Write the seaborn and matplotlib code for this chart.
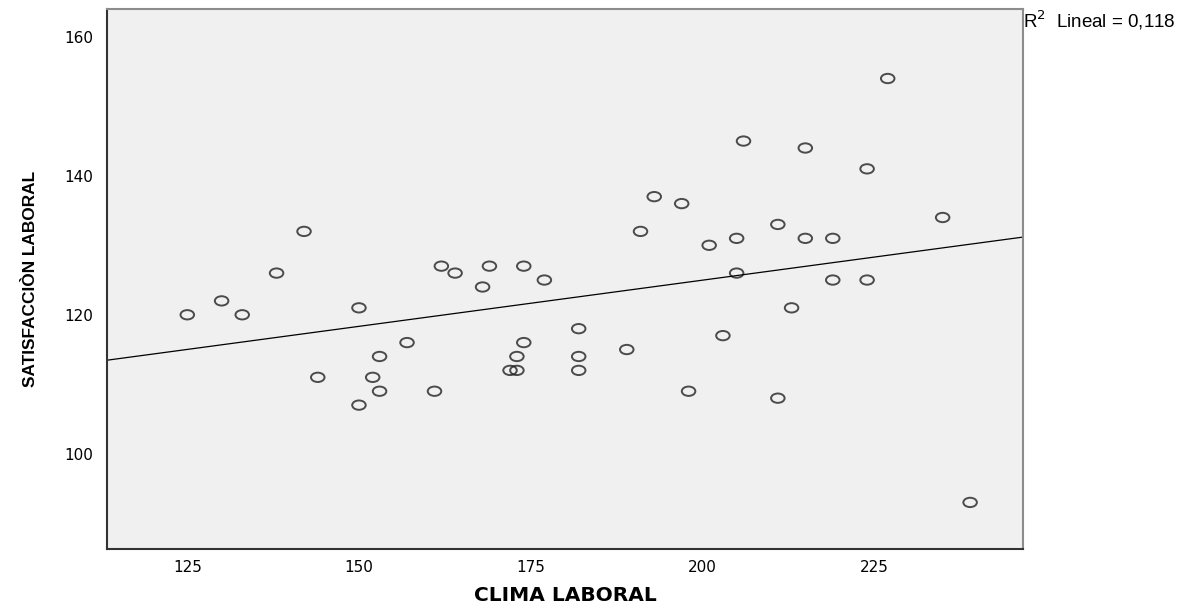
import numpy as np
import pandas as pd
import matplotlib.pyplot as plt
from matplotlib.path import Path
from matplotlib.transforms import Affine2D
import seaborn as sns

# CLIMA LABORAL vs SATISFACCIÓN LABORAL
clima = [125, 130, 133, 138, 142, 144, 150, 150, 152, 153, 153, 157,
         161, 162, 164, 168, 169, 172, 173, 173, 174, 174, 177, 182,
         182, 182, 189, 191, 193, 197, 198, 201, 203, 205, 205, 206,
         211, 211, 213, 215, 215, 219, 219, 224, 224, 227, 235, 239]
satisfaccion = [120, 122, 120, 126, 132, 111, 121, 107, 111, 114, 109, 116,
                109, 127, 126, 124, 127, 112, 112, 114, 127, 116, 125, 118,
                114, 112, 115, 132, 137, 136, 109, 130, 117, 131, 126, 145,
                133, 108, 121, 144, 131, 131, 125, 141, 125, 154, 134, 93]
x_ticks = [125, 150, 175, 200, 225]
y_ticks = [100, 120, 140, 160]
r2_label = "R$^2$  Lineal = 0,118"

df = pd.DataFrame({"clima": clima, "satisfaccion": satisfaccion})

sns.set_style("white")
plt.rcParams["font.family"] = ["DejaVu Sans"]
plt.rcParams["text.color"] = "black"
plt.rcParams["xtick.color"] = "black"
plt.rcParams["ytick.color"] = "black"

# SPSS draws the circles a bit wider than tall
ellipse = Path.unit_circle().transformed(Affine2D().scale(1.45, 1.0))

fig = plt.figure(figsize=(11.99, 6.05), dpi=100)
ax = fig.add_axes([0.0892, 0.0926, 0.764, 0.8925])
ax.set_facecolor("#f0f0f0")
ax.set_xlim(113.3, 246.7)
ax.set_ylim(86.3, 164.0)

sns.regplot(data=df, x="clima", y="satisfaccion", ax=ax, ci=None,
            truncate=False, marker=ellipse,
            scatter_kws={"s": 95, "facecolors": "none", "edgecolors": "#222222",
                         "linewidths": 1.4, "color": None},
            line_kws={"color": "black", "linewidth": 0.9})

ax.set_xticks(x_ticks)
ax.set_yticks(y_ticks)
ax.tick_params(axis="y", direction="out", length=9, width=1.5, color="#333333",
               labelsize=11, pad=1, labelcolor="black")
ax.tick_params(axis="x", direction="out", length=6, width=1.5, color="#333333",
               labelsize=11, pad=2, labelcolor="black")

for side in ["left", "bottom"]:
    ax.spines[side].set_color("#333333")
    ax.spines[side].set_linewidth(1.5)
for side in ["top", "right"]:
    ax.spines[side].set_color("#8c8c8c")
    ax.spines[side].set_linewidth(1.5)

ax.set_xlabel("CLIMA LABORAL", fontsize=14.5, fontweight="bold", labelpad=8,
              color="black")
ax.set_ylabel("SATISFACCIÒN LABORAL", fontsize=12.4, fontweight="bold",
              family=["Liberation Sans", "DejaVu Sans"], labelpad=19,
              color="black")

fig.text(0.8536, 0.967, r2_label, fontsize=13.5, ha="left", va="center",
         family=["Liberation Sans", "DejaVu Sans"])

fig.savefig("out.png", dpi=100)
